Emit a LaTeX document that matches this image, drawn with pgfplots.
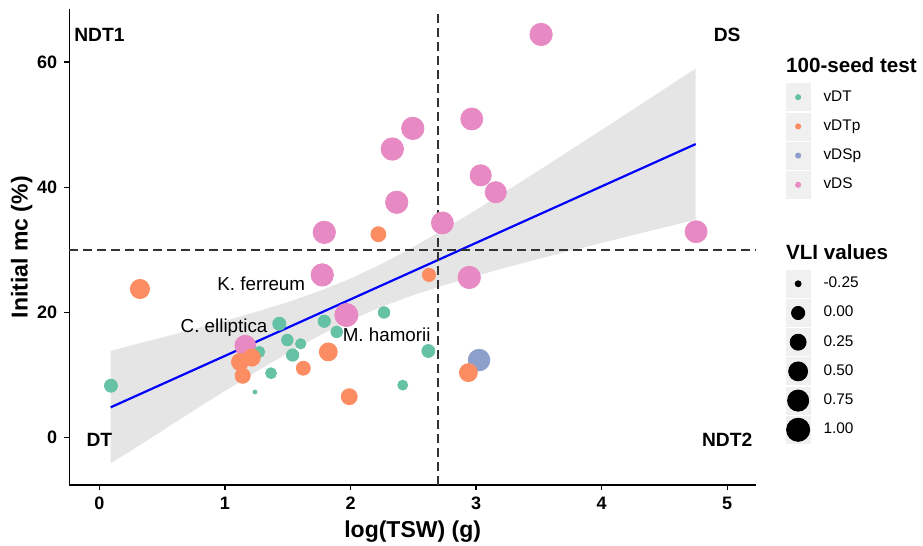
\documentclass[border=0pt]{standalone}
\usepackage{fontspec}
\setmainfont{Liberation Sans}
\usepackage{pgfplots}
\pgfplotsset{compat=1.18}

\definecolor{cvdt}{HTML}{66C2A5}
\definecolor{cvdtp}{HTML}{FC8D62}
\definecolor{cvdsp}{HTML}{8DA0CB}
\definecolor{cvds}{HTML}{E78AC3}
\definecolor{keybg}{HTML}{F0F0F0}

\pgfplotsset{
  keydot/.style 2 args={legend image code/.code={
    \fill[keybg] (0pt,-6.75pt) rectangle (12pt,6.75pt);
    \fill[#1] (6pt,0pt) circle[radius=#2];
  }},
  keylegend/.style={
    legend cell align=left,
    legend style={draw=none, fill=none, inner sep=0pt, outer sep=0pt,
      anchor=north west, row sep=0.7pt,
      nodes={inner sep=0pt},
      font=\fontsize{7.7}{9}\selectfont,
      /tikz/every odd column/.append style={column sep=6.5pt}},
  },
  sized/.style={scatter, only marks, mark=*,
    scatter/use mapped color={draw=#1, fill=#1},
    visualization depends on={\thisrow{r}\as\rr},
    scatter/@pre marker code/.append style={/tikz/mark size=\rr},
    forget plot},
}
\tikzset{ltitle/.style={anchor=west, inner sep=0pt, font=\fontsize{10.3}{12}\selectfont\bfseries}}

% x = log(TSW), y = initial mc, r = marker radius (pt)
\pgfplotstableread{
x y r
3.518 64.4 5.6
2.966 50.9 5.5
2.496 49.4 5.6
2.333 46.1 5.6
3.037 41.9 5.3
3.157 39.2 5.3
2.368 37.6 5.6
2.732 34.3 5.5
1.791 32.8 5.6
4.753 32.9 5.5
1.775 26.0 5.6
2.946 25.6 5.6
1.967 19.6 5.8
1.162 14.7 5.2
}\vds
\pgfplotstableread{
x y r
0.092 8.3 3.25
1.433 18.2 3.3
1.791 18.6 3.1
1.890 16.9 2.9
1.497 15.6 2.9
1.603 15.0 2.6
1.539 13.2 3.1
1.273 13.7 2.8
1.367 10.3 2.75
1.239 7.3 1.0
2.267 20.0 2.9
2.620 13.85 3.25
2.416 8.4 2.5
}\vdt
\pgfplotstableread{
x y r
3.024 12.4 5.4
}\vdsp
\pgfplotstableread{
x y r
0.323 23.75 4.8
2.222 32.5 3.75
2.625 26.0 3.3
1.823 13.7 4.5
1.624 11.1 3.5
1.990 6.55 4.0
2.939 10.4 4.5
1.120 12.1 4.3
1.213 12.8 4.3
1.141 9.9 3.8
}\vdtp

\begin{document}
\begin{tikzpicture}
\useasboundingbox (-34.65pt,-30.5pt) rectangle (426.85pt,242.5pt);
\begin{axis}[
  at={(0,0)}, anchor=south west,
  width=343.35pt, height=237.8pt, scale only axis,
  xmin=-0.24, xmax=5.23, ymin=-7.55, ymax=68.4,
  clip=false,
  axis x line*=bottom, axis y line*=left,
  axis line style={black, line width=0.6pt, -},
  xtick={0,1,2,3,4,5}, ytick={0,20,40,60},
  tick align=outside, major tick length=2.5pt,
  tick style={black, line width=0.6pt},
  tick label style={font=\fontsize{9}{10}\selectfont\bfseries, black},
  /pgf/number format/assume math mode=true,
  xlabel={log(TSW) (g)}, ylabel={Initial mc (\%)},
  label style={font=\fontsize{11.5}{13}\selectfont\bfseries},
  xlabel style={at={(axis description cs:0.5,-0.0988)}, anchor=center},
  ylabel style={at={(axis description cs:-0.0693,0.5)}, anchor=center},
  keylegend,
  legend style={at={(axis description cs:1.0433,0.8446)}},
]
\addplot[sized=cvds] table {\vds};
\addplot[sized=cvdt] table {\vdt};
\addplot[sized=cvdsp] table {\vdsp};
\addplot[sized=cvdtp] table {\vdtp};

% confidence band of the linear fit
\addplot[fill=black!40, fill opacity=0.25, draw=none, forget plot] coordinates {
 (0.09,13.85) (0.25,14.73) (0.5,16.01) (0.75,17.32) (1.0,18.67) (1.25,20.11)
 (1.5,21.65) (1.75,23.40) (2.0,25.41) (2.25,27.78) (2.5,30.44) (2.75,33.34)
 (3.0,36.37) (3.25,39.51) (3.5,42.68) (3.75,45.91) (4.0,49.15) (4.25,52.42)
 (4.5,55.69) (4.75,58.98)
 (4.75,34.82) (4.5,33.59) (4.25,32.36) (4.0,31.11) (3.75,29.85) (3.5,28.56)
 (3.25,27.23) (3.0,25.85) (2.75,24.38) (2.5,22.76) (2.25,20.92) (2.0,18.77)
 (1.75,16.28) (1.5,13.51) (1.25,10.55) (1.0,7.47) (0.75,4.32) (0.5,1.11)
 (0.25,-2.11) (0.09,-4.05)
} -- cycle;
\addplot[blue, line width=1.1pt, forget plot] coordinates {(0.09,4.86) (4.75,46.9)};

\addplot[black!80, line width=0.8pt, dash pattern=on 4.5pt off 2.5pt, forget plot]
  coordinates {(2.695,-7.55) (2.695,68.4)};
\addplot[black!80, line width=0.8pt, dash pattern=on 4.5pt off 2.5pt, forget plot]
  coordinates {(-0.24,30) (5.23,30)};

\node[font=\fontsize{9.6}{11}\selectfont\bfseries] at (axis cs:0,64.4) {NDT1};
\node[font=\fontsize{9.6}{11}\selectfont\bfseries] at (axis cs:5,64.4) {DS};
\node[font=\fontsize{9.6}{11}\selectfont\bfseries] at (axis cs:0,-0.4) {DT};
\node[font=\fontsize{9.6}{11}\selectfont\bfseries] at (axis cs:5,-0.4) {NDT2};
\node[font=\fontsize{9.4}{11}\selectfont] at (axis cs:1.289,24.65) {K. ferreum};
\node[font=\fontsize{9.4}{11}\selectfont] at (axis cs:0.993,17.6) {C. elliptica};
\node[font=\fontsize{9.4}{11}\selectfont] at (axis cs:2.288,16.5) {M. hamorii};

\node[ltitle] at (axis description cs:1.0433,0.8829) {100-seed test};
\node[ltitle] at (axis description cs:1.0433,0.4903) {VLI values};

\addlegendimage{keydot={cvdt}{1.3pt}}\addlegendentry{vDT}
\addlegendimage{keydot={cvdtp}{1.3pt}}\addlegendentry{vDTp}
\addlegendimage{keydot={cvdsp}{1.3pt}}\addlegendentry{vDSp}
\addlegendimage{keydot={cvds}{1.3pt}}\addlegendentry{vDS}
\end{axis}

% second, hidden axis that only carries the size legend
\begin{axis}[
  at={(0,0)}, anchor=south west,
  width=343.35pt, height=237.8pt, scale only axis,
  xmin=0, xmax=1, ymin=0, ymax=1, hide axis,
  keylegend,
  legend style={at={(axis description cs:1.0433,0.4523)}},
]
\addlegendimage{keydot={black}{1.5pt}}\addlegendentry{-0.25}
\addlegendimage{keydot={black}{3.3pt}}\addlegendentry{0.00}
\addlegendimage{keydot={black}{4.0pt}}\addlegendentry{0.25}
\addlegendimage{keydot={black}{4.75pt}}\addlegendentry{0.50}
\addlegendimage{keydot={black}{5.3pt}}\addlegendentry{0.75}
\addlegendimage{keydot={black}{5.8pt}}\addlegendentry{1.00}
\end{axis}
\end{tikzpicture}
\end{document}
